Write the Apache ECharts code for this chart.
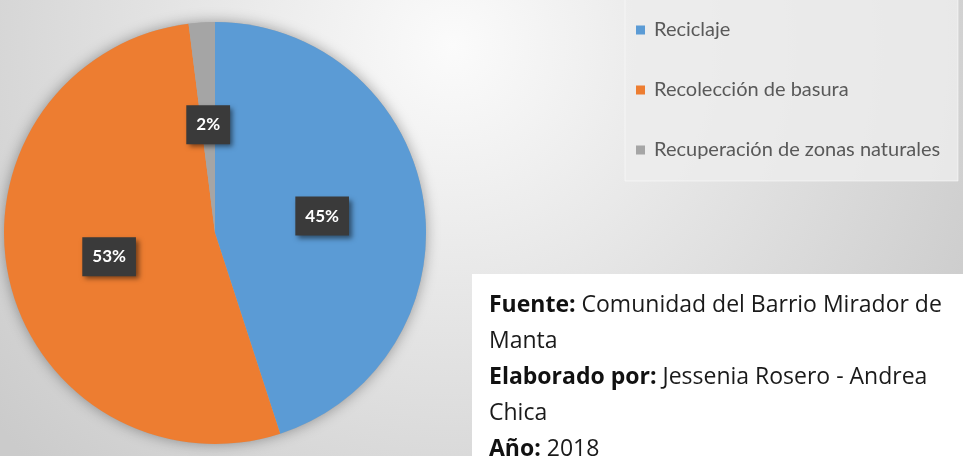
<!DOCTYPE html>
<html>
<head>
<meta charset="utf-8">
<script src="https://cdn.jsdelivr.net/npm/echarts@6/dist/echarts.min.js"></script>
<style>
  html, body { margin: 0; padding: 0; }
  #chart { width: 963px; height: 456px; }
</style>
</head>
<body>
<div id="chart"></div>
<script>
const categories = ['Reciclaje', 'Recolección de basura', 'Recuperación de zonas naturales'];
const values = [45, 53, 2];
const colors = ['#5b9bd5', '#ed7d31', '#a5a5a5'];

const noteLines = [
  '{b|Fuente:} Comunidad del Barrio Mirador de',
  'Manta',
  '{b|Elaborado por:} Jessenia Rosero - Andrea',
  'Chica',
  '{b|Año:} 2018'
];

const chart = echarts.init(document.getElementById('chart'));

const center = [215, 233];
const radius = 211;

const option = {
  backgroundColor: {
    type: 'radial',
    x: 0.47,
    y: 0.1,
    r: 1.3,
    colorStops: [
      { offset: 0, color: '#fbfbfb' },
      { offset: 1, color: '#cbcbcb' }
    ]
  },
  animation: false,
  color: colors,
  graphic: [
    {
      type: 'rect',
      z: 0,
      shape: { x: 625, y: -2, width: 333, height: 183 },
      style: { fill: 'rgba(236,236,236,0.85)', stroke: 'rgba(255,255,255,0.5)', lineWidth: 1 }
    },
    {
      type: 'rect',
      z: 0,
      shape: { x: 472, y: 274, width: 500, height: 190 },
      style: { fill: '#ffffff' }
    },
    {
      type: 'text',
      z: 1,
      left: 489,
      top: 287,
      style: {
        text: noteLines.join('\n'),
        font: '23px "Open Sans"',
        fill: '#1a1a1a',
        lineHeight: 36,
        rich: {
          b: { fontWeight: 'bold', fontSize: 23, fontFamily: 'Open Sans', fill: '#111', lineHeight: 36 }
        }
      }
    }
  ],
  legend: {
    orient: 'vertical',
    left: 636,
    top: 20,
    padding: 0,
    itemWidth: 9,
    itemHeight: 9,
    itemGap: 40,
    icon: 'rect',
    data: categories,
    textStyle: {
      fontFamily: 'Lato',
      fontSize: 20,
      color: '#595959',
      padding: [0, 0, 0, 4]
    }
  },
  series: [
    {
      type: 'pie',
      silent: true,
      center: center,
      radius: radius,
      z: 1,
      label: { show: false },
      labelLine: { show: false },
      itemStyle: { color: '#aaa', shadowBlur: 14, shadowColor: 'rgba(0,0,0,0.35)' },
      data: [{ name: '', value: values.reduce((a, b) => a + b, 0) }]
    },
    {
      type: 'pie',
      z: 2,
      center: center,
      radius: radius,
      startAngle: 90,
      clockwise: true,
      data: categories.map((name, i) => ({ name, value: values[i] })),
      label: {
        show: true,
        position: 'inside',
        formatter: p => p.value + '%',
        color: '#ffffff',
        fontFamily: 'Lato',
        fontWeight: 'bold',
        fontSize: 17,
        backgroundColor: '#3a3a3a',
        padding: [11, 10, 11, 10],
        shadowBlur: 5,
        shadowOffsetX: 3,
        shadowOffsetY: 3,
        shadowColor: 'rgba(0,0,0,0.5)'
      },
      labelLine: { show: false }
    }
  ]
};

chart.setOption(option);
</script>
</body>
</html>
